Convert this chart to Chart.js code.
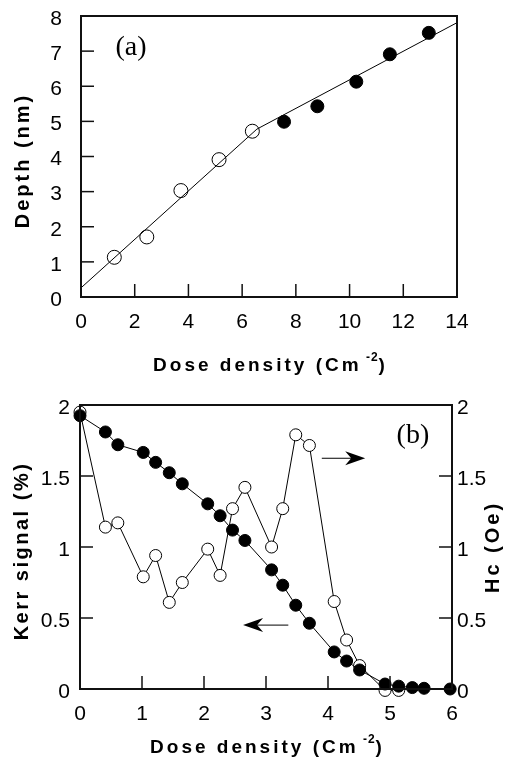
<!DOCTYPE html>
<html>
<head>
<meta charset="utf-8">
<script src="https://cdn.jsdelivr.net/npm/chart.js@4.4.1/dist/chart.umd.min.js"></script>
<style>
    html, body { margin: 0; padding: 0; background: #fff; }
    #wrap { position: relative; width: 506px; height: 766px; }
    #depth-chart { position: absolute; left: 0; top: 0; }
    #kerr-chart { position: absolute; left: 0; top: 385px; }
</style>
</head>
<body>
<div id="wrap">
    <canvas id="depth-chart" width="506" height="385"></canvas>
    <canvas id="kerr-chart" width="506" height="381"></canvas>
</div>
<script>

// Data, panel (a)

var depthDoseOpen = [1.24, 2.45, 3.72, 5.14, 6.38];
var depthOpen = [1.13, 1.71, 3.03, 3.91, 4.72];
var depthDoseFilled = [7.56, 8.80, 10.25, 11.50, 12.95];
var depthFilled = [4.99, 5.43, 6.13, 6.91, 7.52];
var fitDose = [0, 6.55, 14];
var fitDepth = [0.26, 4.78, 7.81];

// Data, panel (b)

var kerrDose = [0, 0.41, 0.61, 1.02, 1.22, 1.44, 1.65, 2.06, 2.26, 2.46, 2.66, 3.09,
    3.27, 3.48, 3.70, 4.10, 4.30, 4.51, 4.92, 5.14, 5.36, 5.55, 5.97];
var kerrSignal = [1.925, 1.81, 1.72, 1.666, 1.596, 1.523, 1.445, 1.304, 1.22, 1.119, 1.046, 0.839,
    0.731, 0.59, 0.463, 0.261, 0.197, 0.134, 0.035, 0.02, 0.01, 0.005, 0];
var hcDose = [0, 0.41, 0.61, 1.02, 1.22, 1.44, 1.65, 2.06, 2.26, 2.46, 2.66, 3.09,
    3.27, 3.48, 3.70, 4.10, 4.30, 4.51, 4.92, 5.14];
var hcValues = [1.95, 1.14, 1.17, 0.79, 0.94, 0.61, 0.75, 0.985, 0.80, 1.27, 1.42, 1.0,
    1.27, 1.79, 1.715, 0.616, 0.345, 0.165, -0.01, -0.01];

var xTitle = 'Dose density (Cm';


// Helpers

var SANS = '"Liberation Sans", Arial, sans-serif';
var SERIF = '"Liberation Serif", "Times New Roman", serif';

function pts(xs, ys) {
    return xs.map(function (x, i) { return { x: x, y: ys[i] }; });
}

// draws a title made of pieces (main text + superscript), centred on cx, cy
function drawParts(ctx, parts, cx, cy, rot) {
    ctx.save();
    ctx.translate(cx, cy);
    if (rot) ctx.rotate(rot);
    ctx.fillStyle = '#000';
    ctx.textBaseline = 'middle';
    ctx.textAlign = 'left';
    var total = 0;
    parts.forEach(function (p) {
        ctx.font = p.font;
        ctx.letterSpacing = p.spacing || '0px';
        p.w = ctx.measureText(p.text).width;
        total += p.w;
    });
    var x = -total / 2;
    parts.forEach(function (p) {
        ctx.font = p.font;
        ctx.letterSpacing = p.spacing || '0px';
        ctx.fillText(p.text, x, p.dy || 0);
        x += p.w;
    });
    ctx.restore();
}

function segment(ctx, x1, y1, x2, y2) {
    ctx.beginPath();
    ctx.moveTo(x1, y1);
    ctx.lineTo(x2, y2);
    ctx.stroke();
}

function arrow(ctx, x1, y1, x2, y2) {
    var dir = x2 > x1 ? 1 : -1;
    ctx.save();
    ctx.strokeStyle = '#000';
    ctx.fillStyle = '#000';
    ctx.lineWidth = 1;
    segment(ctx, x1, y1, x2 - dir * 8, y2);
    ctx.beginPath();
    ctx.moveTo(x2, y2);
    ctx.lineTo(x2 - dir * 20, y2 - 7);
    ctx.lineTo(x2 - dir * 14, y2);
    ctx.lineTo(x2 - dir * 20, y2 + 7);
    ctx.closePath();
    ctx.fill();
    ctx.restore();
}

// box round the plot and inward tick marks, placed from the scales
function drawFrame(chart) {
    var ctx = chart.ctx, sx = chart.scales.x, sy = chart.scales.y;
    var l = sx.getPixelForValue(sx.min), r = sx.getPixelForValue(sx.max);
    var t = sy.getPixelForValue(sy.max), b = sy.getPixelForValue(sy.min);
    ctx.save();
    ctx.strokeStyle = '#111';
    ctx.lineWidth = 2;
    ctx.lineCap = 'square';
    segment(ctx, l, t, r, t);
    segment(ctx, r, t, r, b);
    segment(ctx, r, b, l, b);
    segment(ctx, l, b, l, t);
    ctx.lineWidth = 1.5;
    ctx.lineCap = 'butt';
    ['x', 'y', 'y2'].forEach(function (id) {
        var s = chart.scales[id];
        if (!s) return;
        s.ticks.forEach(function (tk) {
            if (tk.value <= s.min || tk.value >= s.max) return;
            var p = s.getPixelForValue(tk.value);
            if (id === 'x') segment(ctx, p, b, p, b - 13);
            else if (id === 'y') segment(ctx, l, p, l + 13, p);
            else segment(ctx, r, p, r - 13, p);
        });
    });
    ctx.restore();
}

function noPad(s) {
    s.paddingTop = 0;
    s.paddingBottom = 0;
    s.paddingLeft = 0;
    s.paddingRight = 0;
}

function plain(v) {
    return String(v);
}

var tickFont = { family: SANS, size: 21 };
var hidden = { display: false };


// Plugin: frame, axis titles, panel letters and arrows

var notesPlugin = {
    id: 'notes',
    afterDraw: function (chart) {
        var ctx = chart.ctx;
        var sx = chart.scales.x, sy = chart.scales.y;
        drawFrame(chart);
        var o = chart.options.plugins.notes || {};
        var cx = (sx.getPixelForValue(sx.min) + sx.getPixelForValue(sx.max)) / 2;
        var cy = (sy.getPixelForValue(sy.min) + sy.getPixelForValue(sy.max)) / 2;
        (o.titles || []).forEach(function (t) {
            if (t.side === 'bottom') drawParts(ctx, t.parts, cx, t.at, 0);
            else drawParts(ctx, t.parts, t.at, cy + (t.shift || 0), -Math.PI / 2);
        });
        (o.labels || []).forEach(function (l) {
            ctx.save();
            ctx.font = l.font;
            ctx.fillStyle = '#000';
            ctx.textAlign = 'center';
            ctx.textBaseline = 'middle';
            ctx.fillText(l.text, sx.getPixelForValue(l.x), sy.getPixelForValue(l.y));
            ctx.restore();
        });
        (o.arrows || []).forEach(function (r) {
            var y = sy.getPixelForValue(r.y);
            arrow(ctx, sx.getPixelForValue(r.from), y, sx.getPixelForValue(r.to), y);
        });
    }
};

function doseTitle(y) {
    return {
        side: 'bottom', at: y, parts: [
            { text: xTitle, font: 'bold 19px ' + SANS, spacing: '3px' },
            { text: ' -2', font: 'bold 12px ' + SANS, spacing: '1px', dy: -8 },
            { text: ')', font: 'bold 19px ' + SANS, spacing: '0px' }
        ]
    };
}


// Panel (a)

new Chart(document.getElementById('depth-chart'), {
    type: 'scatter',
    data: {
        datasets: [{
            label: 'fit',
            data: pts(fitDose, fitDepth),
            showLine: true,
            borderColor: '#000',
            borderWidth: 1,
            pointRadius: 0,
            order: 0
        }, {
            label: 'open',
            data: pts(depthDoseOpen, depthOpen),
            pointRadius: 7,
            pointBackgroundColor: 'rgba(255,255,255,0)',
            pointBorderColor: '#000',
            pointBorderWidth: 1,
            clip: false,
            order: 1
        }, {
            label: 'filled',
            data: pts(depthDoseFilled, depthFilled),
            pointRadius: 6.5,
            pointBackgroundColor: '#000',
            pointBorderColor: '#000',
            pointBorderWidth: 1,
            clip: false,
            order: 0
        }]
    },
    options: {
        responsive: false,
        animation: false,
        events: [],
        layout: { padding: { top: 16, right: 49, left: 0, bottom: 0 } },
        plugins: {
            legend: { display: false },
            tooltip: { enabled: false },
            notes: {
                titles: [
                    doseTitle(366),
                    { side: 'left', at: 23, shift: 4, parts: [{ text: 'Depth (nm)', font: 'bold 20px ' + SANS, spacing: '3px' }] }
                ],
                labels: [{ text: '(a)', x: 1.86, y: 7.1, font: '28px ' + SERIF }]
            }
        },
        scales: {
            x: {
                type: 'linear', position: 'bottom', min: 0, max: 14,
                ticks: { stepSize: 2, font: tickFont, color: '#000', padding: 13, maxRotation: 0, callback: plain },
                grid: { display: false, drawTicks: false },
                border: hidden,
                afterFit: function (s) { noPad(s); s.height = 88; }
            },
            y: {
                type: 'linear', position: 'left', min: 0, max: 8,
                ticks: { stepSize: 1, font: tickFont, color: '#000', padding: 19, labelOffset: 3, callback: plain },
                grid: { display: false, drawTicks: false },
                border: hidden,
                afterFit: function (s) { noPad(s); s.width = 81; }
            }
        }
    },
    plugins: [notesPlugin]
});


// Panel (b)

new Chart(document.getElementById('kerr-chart'), {
    type: 'scatter',
    data: {
        datasets: [{
            label: 'Kerr signal',
            data: pts(kerrDose, kerrSignal),
            yAxisID: 'y',
            showLine: true,
            borderColor: '#000',
            borderWidth: 1,
            pointRadius: 6,
            pointBackgroundColor: '#000',
            pointBorderColor: '#000',
            pointBorderWidth: 1,
            clip: false,
            order: 0
        }, {
            label: 'Hc',
            data: pts(hcDose, hcValues),
            yAxisID: 'y2',
            showLine: true,
            borderColor: '#000',
            borderWidth: 1,
            pointRadius: 6,
            pointBackgroundColor: '#fff',
            pointBorderColor: '#000',
            pointBorderWidth: 1,
            clip: false,
            order: 1
        }]
    },
    options: {
        responsive: false,
        animation: false,
        events: [],
        layout: { padding: { top: 20, right: 0, left: 0, bottom: 0 } },
        plugins: {
            legend: { display: false },
            tooltip: { enabled: false },
            notes: {
                titles: [
                    doseTitle(363),
                    { side: 'left', at: 22, shift: 4, parts: [{ text: 'Kerr signal (%)', font: 'bold 20px ' + SANS, spacing: '2.5px' }] },
                    { side: 'right', at: 493, shift: 0, parts: [{ text: 'Hc (Oe)', font: 'bold 20px ' + SANS, spacing: '3px' }] }
                ],
                labels: [{ text: '(b)', x: 5.37, y: 1.785, font: '28px ' + SERIF }],
                arrows: [
                    { from: 3.9, to: 4.6, y: 1.625 },
                    { from: 3.36, to: 2.63, y: 0.45 }
                ]
            }
        },
        scales: {
            x: {
                type: 'linear', position: 'bottom', min: 0, max: 6,
                ticks: { stepSize: 1, font: tickFont, color: '#000', padding: 13, maxRotation: 0, callback: plain },
                grid: { display: false, drawTicks: false },
                border: hidden,
                afterFit: function (s) { noPad(s); s.height = 77; }
            },
            y: {
                type: 'linear', position: 'left', min: 0, max: 2,
                ticks: { stepSize: 0.5, font: tickFont, color: '#000', padding: 10, labelOffset: 3, callback: plain },
                grid: { display: false, drawTicks: false },
                border: hidden,
                afterFit: function (s) { noPad(s); s.width = 80; }
            },
            y2: {
                type: 'linear', position: 'right', min: 0, max: 2,
                ticks: { stepSize: 0.5, font: tickFont, color: '#000', padding: 5, labelOffset: 3, callback: plain },
                grid: { display: false, drawTicks: false },
                border: hidden,
                afterFit: function (s) { noPad(s); s.width = 54; }
            }
        }
    },
    plugins: [notesPlugin]
});

</script>
</body>
</html>
